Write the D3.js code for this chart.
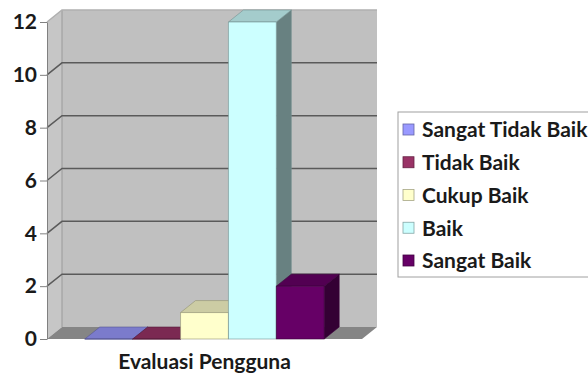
<!DOCTYPE html>
<html>
<head>
<meta charset="utf-8">
<script src="https://cdn.jsdelivr.net/npm/d3@7"></script>
<style>
  body { margin: 0; background: #fff; }
  svg text { font-family: Lato, "Open Sans", sans-serif; font-weight: bold; fill: #1a1a1a; }
</style>
</head>
<body>
<div id="chart"></div>
<script>
// data
const categories = ['Evaluasi Pengguna'];
const series = ['Sangat Tidak Baik', 'Tidak Baik', 'Cukup Baik', 'Baik', 'Sangat Baik'];
const values = [0, 0, 1, 12, 2];
const colors = ['#9999ff', '#993366', '#ffffcc', '#ccffff', '#660066'];
const yTicks = [0, 2, 4, 6, 8, 10, 12];

const width = 588, height = 376;
const DX = 15, DY = -12; // 3d depth offset

const svg = d3.select('#chart').append('svg')
  .attr('width', width)
  .attr('height', height);

const y = d3.scaleLinear().domain([0, 12]).range([339, 22]);
const x = d3.scaleBand().domain(categories).range([47, 362]);

const bw = x.bandwidth();
const x0 = x(categories[0]), x1 = x0 + bw;
const xi = d3.scaleBand().domain(series)
  .range([x0 + bw * 0.12, x0 + bw * 0.88]);

const poly = pts => 'M' + pts.map(p => p.join(',')).join('L') + 'Z';

// walls + floor
const walls = svg.append('g').attr('class', 'walls');
walls.append('path')
  .attr('d', poly([[x0 + DX, y(12) + DY], [x1 + DX, y(12) + DY], [x1 + DX, y(0) + DY], [x0 + DX, y(0) + DY]]))
  .attr('fill', '#c0c0c0');
walls.append('path')
  .attr('d', poly([[x0, y(12)], [x0 + DX, y(12) + DY], [x0 + DX, y(0) + DY], [x0, y(0)]]))
  .attr('fill', '#c6c6c6');
walls.append('path')
  .attr('d', poly([[x0, y(0)], [x0 + DX, y(0) + DY], [x1 + DX, y(0) + DY], [x1, y(0)]]))
  .attr('fill', '#858585');
walls.append('line')
  .attr('x1', x0 + DX).attr('x2', x0 + DX)
  .attr('y1', y(12) + DY).attr('y2', y(0) + DY)
  .attr('stroke', '#9a9a9a');

// gridlines (back wall + side wall)
walls.selectAll('.grid')
  .data(yTicks.filter(t => t > 0))
  .join('path')
  .attr('class', 'grid')
  .attr('d', t => 'M' + [[x0, y(t)], [x0 + DX, y(t) + DY], [x1 + DX, y(t) + DY]].map(p => p.join(',')).join('L'))
  .attr('fill', 'none')
  .attr('stroke', t => t === 12 ? '#b0b0b0' : '#5a5a5a')
  .attr('stroke-width', 1.5);

// y axis
const axis = svg.append('g')
  .attr('transform', `translate(${x0},0)`)
  .call(d3.axisLeft(y).tickValues(yTicks).tickSize(7).tickSizeOuter(0).tickPadding(3));
axis.select('.domain').attr('stroke', '#808080');
axis.selectAll('.tick line').attr('stroke', '#808080');
axis.selectAll('.tick text')
  .style('font-size', '21px');

// bars
const bars = svg.append('g').attr('class', 'bars')
  .selectAll('g')
  .data(series.map((s, i) => ({ s, v: values[i], c: colors[i] })))
  .join('g');

bars.each(function(d) {
  const g = d3.select(this);
  const bx0 = xi(d.s), bx1 = bx0 + xi.bandwidth();
  const yt = y(d.v), yb = y(0);
  const base = d3.color(d.c);
  const edge = base.darker(1.6).formatHex();
  g.append('path')
    .attr('d', poly([[bx1, yt], [bx1 + DX, yt + DY], [bx1 + DX, yb + DY], [bx1, yb]]))
    .attr('fill', base.darker(1.9).formatHex())
    .attr('stroke', edge).attr('stroke-width', 0.6);
  g.append('path')
    .attr('d', poly([[bx0, yt], [bx0 + DX, yt + DY], [bx1 + DX, yt + DY], [bx1, yt]]))
    .attr('fill', base.darker(0.62).formatHex())
    .attr('stroke', edge).attr('stroke-width', 0.6);
  g.append('path')
    .attr('d', poly([[bx0, yt], [bx1, yt], [bx1, yb], [bx0, yb]]))
    .attr('fill', d.c)
    .attr('stroke', edge).attr('stroke-width', 0.6);
});

// x label
svg.append('text')
  .attr('x', (x0 + x1) / 2)
  .attr('y', 369)
  .attr('text-anchor', 'middle')
  .style('font-size', '21px')
  .text(categories[0]);

// legend
const legend = svg.append('g').attr('transform', 'translate(398,112)');
legend.append('rect')
  .attr('width', 200).attr('height', 165)
  .attr('fill', '#fff').attr('stroke', '#a0a0a0');
const items = legend.selectAll('.item')
  .data(series)
  .join('g')
  .attr('class', 'item')
  .attr('transform', (d, i) => `translate(0,${18 + i * 32.75})`);
items.append('rect')
  .attr('x', 5).attr('y', -6).attr('width', 11).attr('height', 11)
  .attr('fill', (d, i) => colors[i])
  .attr('stroke', (d, i) => d3.color(colors[i]).darker(1.2).formatHex())
  .attr('stroke-width', 0.8);
items.append('text')
  .attr('x', 24).attr('dy', '0.35em')
  .style('font-size', '21px')
  .text(d => d);
</script>
</body>
</html>
